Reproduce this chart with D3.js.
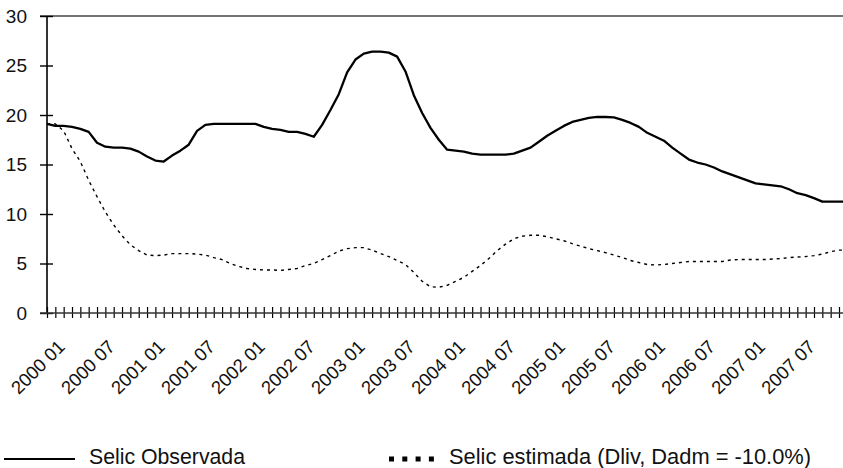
<!DOCTYPE html>
<html>
<head>
<meta charset="utf-8">
<script src="https://cdn.jsdelivr.net/npm/d3@7"></script>
<style>
  html, body { margin: 0; padding: 0; background: #fff; }
  svg { display: block; font-family: "Liberation Sans", Arial, Helvetica, sans-serif; }
</style>
</head>
<body>
<svg id="chart" width="843" height="468"></svg>
<script>
// ---- data ----
const startYear = 2000;
const months = d3.range(97).map(i => {
  const y = startYear + Math.floor(i / 12);
  const m = (i % 12) + 1;
  return y + " " + (m < 10 ? "0" + m : "" + m);
});
const labelIndex = d3.range(0, 96, 6); // 2000 01 ... 2007 07
const yTicks = [0, 5, 10, 15, 20, 25, 30];

const selicObservada = [
  19.1, 18.9, 18.9, 18.8, 18.6, 18.3, 17.2, 16.8, 16.7, 16.7, 16.6, 16.3,
  15.8, 15.4, 15.3, 15.9, 16.4, 17.0, 18.4, 19.0, 19.1, 19.1, 19.1, 19.1,
  19.1, 19.1, 18.8, 18.6, 18.5, 18.3, 18.3, 18.1, 17.8, 19.0, 20.5, 22.1,
  24.3, 25.6, 26.2, 26.4, 26.4, 26.3, 25.9, 24.4, 22.0, 20.2, 18.7, 17.5,
  16.5, 16.4, 16.3, 16.1, 16.0, 16.0, 16.0, 16.0, 16.1, 16.4, 16.7, 17.3,
  17.9, 18.4, 18.9, 19.3, 19.5, 19.7, 19.8, 19.8, 19.75, 19.5, 19.2, 18.8,
  18.2, 17.8, 17.4, 16.7, 16.1, 15.5, 15.2, 15.0, 14.7, 14.3, 14.0, 13.7,
  13.4, 13.1, 13.0, 12.9, 12.8, 12.5, 12.1, 11.9, 11.6, 11.25, 11.25, 11.25,
  11.25
];
const selicEstimada = [
  19.1, 19.1, 18.4, 16.6, 15.3, 13.4, 11.75, 10.2, 8.9, 7.8, 6.9, 6.3,
  5.85, 5.8, 5.85, 6.0, 6.0, 6.0, 5.95, 5.85, 5.6, 5.4, 5.0, 4.7,
  4.5, 4.4, 4.35, 4.35, 4.3, 4.4, 4.5, 4.8, 5.0, 5.4, 5.8, 6.25,
  6.5, 6.6, 6.6, 6.35, 6.0, 5.7, 5.3, 4.9, 4.1, 3.2, 2.65, 2.6,
  2.8, 3.2, 3.6, 4.2, 4.8, 5.5, 6.3, 6.95, 7.5, 7.75, 7.85, 7.85,
  7.7, 7.5, 7.3, 7.0, 6.75, 6.5, 6.3, 6.1, 5.85, 5.6, 5.3, 5.1,
  4.9, 4.85, 4.9, 5.0, 5.1, 5.2, 5.2, 5.2, 5.2, 5.2, 5.35, 5.4,
  5.4, 5.4, 5.4, 5.45, 5.5, 5.6, 5.65, 5.7, 5.8, 5.95, 6.2, 6.35,
  6.35
];
const seriesNames = ["Selic Observada", "Selic estimada (Dliv, Dadm = -10.0%)"];

// ---- drawing ----
const svg = d3.select("#chart");
const x = d3.scaleLinear().domain([0, 95]).range([47, 839]);
const y = d3.scaleLinear().domain([0, 30]).range([313, 16]);

// top border line
svg.append("line")
  .attr("x1", 40).attr("x2", 843)
  .attr("y1", y(30)).attr("y2", y(30))
  .attr("stroke", "#444").attr("stroke-width", 1.6);

// y axis
const yAxis = svg.append("g")
  .attr("transform", `translate(${x(0)},0)`)
  .call(d3.axisLeft(y).tickValues(yTicks).tickSize(6).tickPadding(14));
yAxis.select(".domain").remove();
yAxis.selectAll(".tick line").attr("x1", 6).attr("x2", -7)
  .attr("stroke", "#000").attr("stroke-width", 1.4);
yAxis.selectAll(".tick text").attr("font-size", 19).attr("fill", "#111")
  .attr("font-family", "Liberation Sans, Arial, sans-serif");
svg.append("line")
  .attr("x1", x(0)).attr("x2", x(0))
  .attr("y1", y(30)).attr("y2", y(0))
  .attr("stroke", "#000").attr("stroke-width", 1.6);

// x axis
const xAxis = svg.append("g")
  .attr("transform", `translate(0,${y(0)})`)
  .call(d3.axisBottom(x).tickValues(d3.range(0, 97)).tickFormat("").tickSize(5));
xAxis.select(".domain").remove();
xAxis.selectAll(".tick line").attr("y1", -6).attr("y2", 5)
  .attr("stroke", "#000").attr("stroke-width", 1.2);
svg.append("line")
  .attr("x1", 40).attr("x2", 843)
  .attr("y1", y(0)).attr("y2", y(0))
  .attr("stroke", "#333").attr("stroke-width", 1.6);

svg.append("g").selectAll("text")
  .data(labelIndex)
  .join("text")
  .attr("transform", i => `translate(${x(i) + 19},${y(0) + 35}) rotate(-45)`)
  .attr("text-anchor", "end")
  .attr("font-size", 18.5)
  .attr("fill", "#111")
  .text(i => months[i]);

// lines
const line = d3.line().x((d, i) => x(i)).y(d => y(d));
svg.append("path")
  .datum(selicEstimada)
  .attr("d", line)
  .attr("fill", "none")
  .attr("stroke", "#000")
  .attr("stroke-width", 1.4)
  .attr("stroke-dasharray", "3,4");
svg.append("path")
  .datum(selicObservada)
  .attr("d", line)
  .attr("fill", "none")
  .attr("stroke", "#000")
  .attr("stroke-width", 2.3)
  .attr("stroke-linejoin", "round");

// legend
const lg = svg.append("g");
lg.append("line").attr("x1", 4).attr("x2", 75).attr("y1", 459).attr("y2", 459)
  .attr("stroke", "#000").attr("stroke-width", 2);
lg.append("text").attr("x", 89).attr("y", 464).attr("font-size", 22).attr("fill", "#111")
  .attr("textLength", 156).attr("lengthAdjust", "spacingAndGlyphs")
  .text(seriesNames[0]);
lg.append("line").attr("x1", 389).attr("x2", 434).attr("y1", 459).attr("y2", 459)
  .attr("stroke", "#000").attr("stroke-width", 5)
  .attr("stroke-dasharray", "5,8.3");
lg.append("text").attr("x", 449).attr("y", 464).attr("font-size", 22).attr("fill", "#111")
  .attr("textLength", 362).attr("lengthAdjust", "spacingAndGlyphs")
  .text(seriesNames[1]);
</script>
</body>
</html>
